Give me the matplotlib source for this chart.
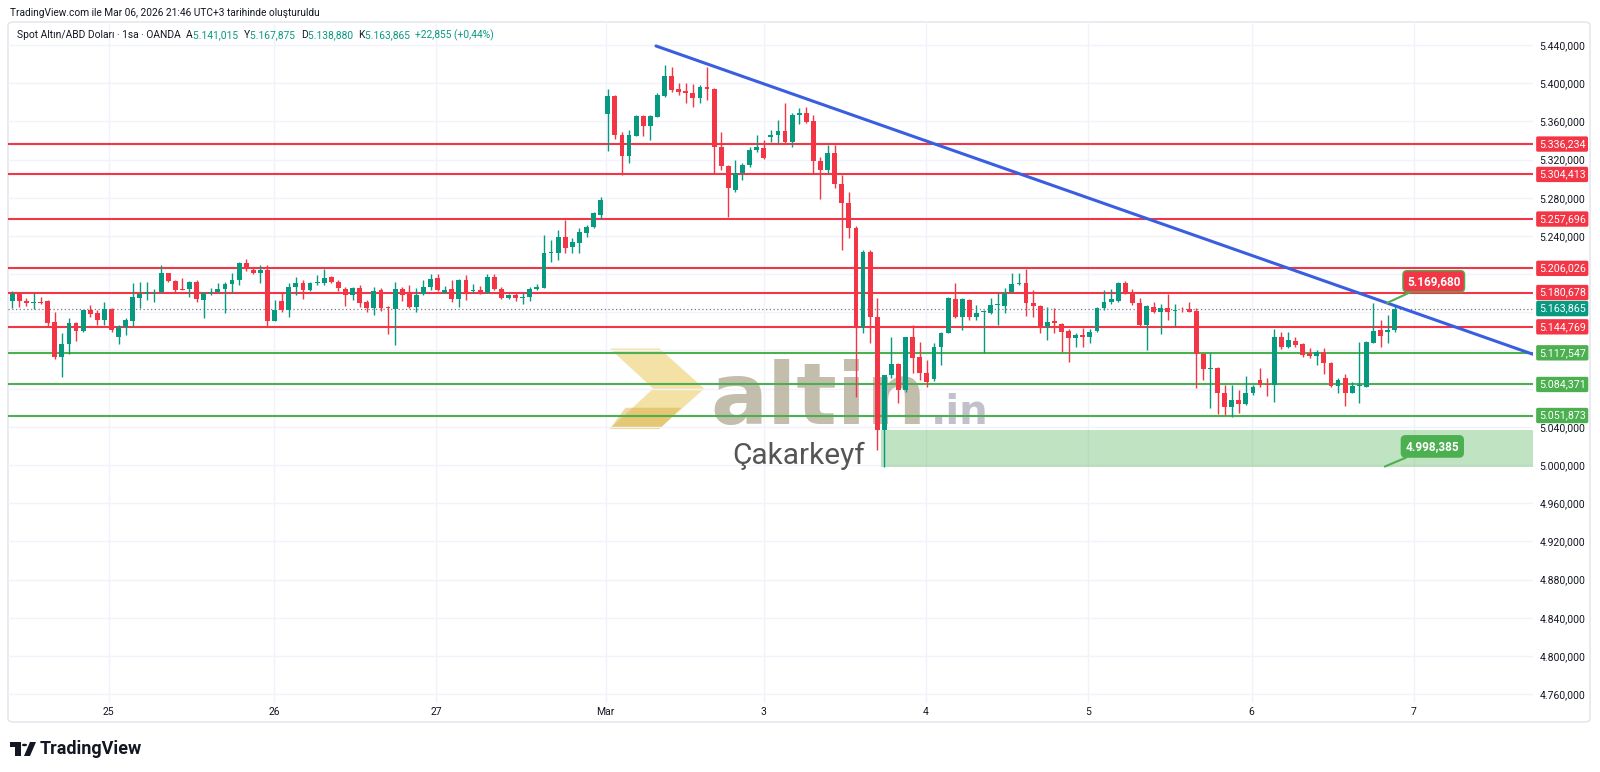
import numpy as np
import matplotlib
matplotlib.use('Agg')
import matplotlib.pyplot as plt
from matplotlib.patches import Rectangle, Polygon, Circle, FancyBboxPatch

plt.rcParams['font.family'] = ['Roboto', 'DejaVu Sans']

# ---- hourly OHLC (XAU/USD, 1h, OANDA) ----
opens = [
    5172.1, 5179.5, 5172.1, 5170.0, 5171.0, 5171.7, 5149.8, 5113.5, 5126.4, 5148.4,
    5140.7, 5162.3, 5158.9, 5151.9, 5163.0, 5134.4, 5144.9, 5151.2, 5175.3, 5178.8,
    5179.8, 5181.5, 5200.8, 5193.1, 5184.0, 5184.0, 5192.0, 5172.8, 5180.0, 5181.5,
    5184.0, 5189.2, 5193.8, 5211.2, 5204.2, 5201.5, 5204.2, 5151.2, 5172.2, 5162.4,
    5186.9, 5190.3, 5183.4, 5190.3, 5190.3, 5196.6, 5192.1, 5184.1, 5178.1, 5185.1,
    5170.4, 5164.2, 5183.4, 5166.0, 5163.1, 5184.1, 5179.9, 5165.9, 5178.8, 5186.2,
    5196.3, 5180.6, 5184.1, 5173.6, 5193.8, 5182.3, 5183.4, 5180.6, 5197.3, 5184.1,
    5174.6, 5178.1, 5175.3, 5176.3, 5184.8, 5185.8, 5222.5, 5222.5, 5238.5, 5228.0,
    5232.9, 5243.4, 5249.7, 5261.9, 5367.7, 5386.5, 5345.7, 5323.7, 5344.7, 5365.6,
    5355.2, 5364.9, 5386.6, 5407.5, 5393.6, 5392.2, 5389.4, 5384.1, 5396.4, 5393.6,
    5332.8, 5313.3, 5288.1, 5305.6, 5314.3, 5330.0, 5331.8, 5343.3, 5345.7, 5350.3,
    5338.7, 5367.0, 5368.4, 5360.7, 5318.8, 5309.1, 5326.5, 5294.4, 5274.1, 5248.0,
    5143.2, 5223.5, 5155.4, 5036.7, 5094.3, 5105.8, 5078.6, 5134.4, 5112.8, 5096.0,
    5090.0, 5124.0, 5137.9, 5173.5, 5154.7, 5172.8, 5155.4, 5160.6, 5158.9, 5167.6,
    5166.6, 5181.6, 5189.6, 5191.0, 5170.1, 5166.6, 5144.2, 5151.2, 5147.7, 5140.7,
    5132.7, 5136.2, 5133.7, 5140.5, 5164.1, 5171.1, 5172.2, 5191.0, 5179.1, 5170.1,
    5146.7, 5165.9, 5160.6, 5164.1, 5161.0, 5162.7, 5163.1, 5161.7, 5116.3, 5100.2,
    5101.2, 5075.7, 5061.0, 5068.0, 5063.9, 5075.0, 5089.0, 5084.8, 5083.8, 5133.7,
    5124.0, 5130.2, 5126.7, 5116.9, 5114.2, 5118.7, 5107.2, 5082.7, 5090.8, 5075.7,
    5082.7, 5082.0, 5128.1, 5141.4, 5139.7, 5141.015]
highs = [
    5182.2, 5181.5, 5174.6, 5179.8, 5176.0, 5172.8, 5160.2, 5137.9, 5153.6, 5150.1,
    5162.3, 5167.6, 5162.3, 5171.0, 5164.1, 5146.6, 5153.6, 5191.0, 5192.0, 5192.0,
    5184.0, 5209.5, 5201.5, 5193.8, 5195.5, 5193.1, 5193.8, 5181.5, 5185.0, 5190.3,
    5192.0, 5200.8, 5213.0, 5215.4, 5206.0, 5209.5, 5209.5, 5172.8, 5179.9, 5190.3,
    5196.6, 5193.8, 5192.0, 5199.1, 5205.0, 5198.0, 5193.8, 5186.2, 5186.9, 5188.6,
    5172.9, 5186.9, 5185.1, 5166.6, 5192.0, 5186.2, 5188.6, 5185.1, 5193.8, 5199.8,
    5199.8, 5187.6, 5193.8, 5194.5, 5199.1, 5189.6, 5187.6, 5199.8, 5199.8, 5186.2,
    5179.2, 5180.6, 5179.9, 5186.2, 5189.6, 5241.0, 5235.7, 5246.2, 5256.7, 5237.5,
    5248.0, 5251.5, 5265.4, 5281.1, 5393.6, 5387.6, 5349.2, 5351.0, 5366.7, 5366.7,
    5366.7, 5389.4, 5419.0, 5417.3, 5400.5, 5399.9, 5399.2, 5398.1, 5416.6, 5394.6,
    5349.2, 5314.3, 5319.5, 5316.0, 5332.8, 5345.7, 5340.5, 5351.0, 5361.5, 5379.6,
    5368.4, 5373.7, 5375.4, 5366.7, 5322.3, 5335.3, 5335.3, 5303.8, 5286.4, 5250.0,
    5225.2, 5225.2, 5174.6, 5094.3, 5133.7, 5107.2, 5134.4, 5146.7, 5129.2, 5110.0,
    5127.5, 5139.0, 5176.3, 5190.3, 5174.6, 5173.5, 5167.6, 5162.4, 5174.6, 5179.8,
    5185.1, 5201.5, 5200.8, 5205.0, 5183.3, 5167.6, 5165.9, 5164.1, 5149.1, 5142.1,
    5137.9, 5143.2, 5142.1, 5165.9, 5183.3, 5184.0, 5192.0, 5193.1, 5184.0, 5174.6,
    5167.6, 5171.1, 5168.7, 5179.1, 5168.7, 5165.9, 5171.1, 5164.1, 5117.6, 5117.6,
    5102.3, 5083.8, 5083.8, 5078.6, 5093.2, 5083.8, 5101.2, 5090.8, 5142.1, 5139.7,
    5139.7, 5133.7, 5128.1, 5122.2, 5120.4, 5122.2, 5108.2, 5090.8, 5095.3, 5087.3,
    5129.2, 5130.2, 5169.7, 5151.9, 5157.1, 5167.875]
lows = [
    5164.1, 5165.8, 5166.5, 5163.0, 5169.0, 5144.9, 5110.7, 5092.5, 5116.3, 5130.2,
    5139.6, 5155.4, 5146.6, 5146.6, 5139.6, 5126.7, 5136.2, 5144.9, 5164.1, 5172.8,
    5171.0, 5180.5, 5192.0, 5179.8, 5183.3, 5176.3, 5171.0, 5153.6, 5178.0, 5179.8,
    5158.9, 5179.8, 5188.5, 5203.5, 5200.0, 5191.0, 5144.2, 5151.2, 5160.7, 5155.4,
    5178.1, 5173.6, 5182.7, 5188.6, 5188.6, 5191.0, 5182.7, 5166.6, 5172.9, 5165.9,
    5160.7, 5157.2, 5161.7, 5137.0, 5125.5, 5172.2, 5164.2, 5160.7, 5178.1, 5183.4,
    5182.3, 5179.9, 5171.1, 5165.9, 5172.9, 5179.9, 5179.2, 5179.9, 5183.4, 5173.6,
    5173.6, 5172.2, 5168.7, 5172.2, 5183.4, 5185.1, 5213.0, 5214.8, 5221.8, 5221.8,
    5221.8, 5239.2, 5247.9, 5257.4, 5329.3, 5341.2, 5303.8, 5316.7, 5344.7, 5344.7,
    5340.5, 5364.2, 5385.2, 5391.1, 5387.6, 5378.9, 5375.4, 5378.9, 5382.4, 5305.6,
    5309.1, 5260.2, 5286.4, 5298.6, 5312.6, 5328.3, 5320.3, 5338.7, 5337.0, 5337.0,
    5333.5, 5357.3, 5358.0, 5305.6, 5278.4, 5305.6, 5289.9, 5225.3, 5237.5, 5071.6,
    5138.0, 5127.5, 5015.7, 4998.4, 5090.8, 5064.6, 5076.8, 5096.0, 5089.0, 5082.0,
    5088.0, 5104.8, 5137.9, 5153.6, 5141.4, 5151.9, 5151.9, 5117.0, 5158.2, 5146.6,
    5158.9, 5180.5, 5188.6, 5156.1, 5155.4, 5137.9, 5131.0, 5137.9, 5118.7, 5108.2,
    5123.3, 5124.0, 5128.2, 5139.7, 5162.4, 5168.7, 5171.1, 5179.1, 5167.6, 5144.9,
    5120.5, 5159.6, 5137.2, 5151.9, 5145.6, 5160.6, 5160.6, 5080.3, 5089.0, 5059.3,
    5053.4, 5052.3, 5050.6, 5054.1, 5062.8, 5073.3, 5082.0, 5072.3, 5066.3, 5121.1,
    5122.2, 5123.9, 5113.5, 5111.7, 5104.7, 5095.3, 5082.0, 5075.0, 5061.8, 5075.0,
    5064.6, 5082.0, 5127.4, 5123.9, 5128.1, 5138.880]
closes = [
    5178.8, 5172.1, 5170.0, 5171.0, 5170.0, 5149.1, 5113.5, 5126.4, 5148.4, 5140.7,
    5162.3, 5158.2, 5151.9, 5163.0, 5141.4, 5144.9, 5151.9, 5175.6, 5178.8, 5180.9,
    5181.5, 5200.8, 5193.1, 5183.3, 5183.3, 5192.0, 5173.5, 5180.5, 5181.5, 5184.0,
    5189.2, 5193.8, 5211.2, 5206.0, 5201.5, 5204.2, 5151.2, 5162.3, 5162.4, 5186.9,
    5190.3, 5183.4, 5191.0, 5191.7, 5196.3, 5192.1, 5185.1, 5178.1, 5185.1, 5169.4,
    5164.2, 5182.3, 5164.2, 5164.2, 5184.1, 5178.1, 5165.9, 5178.1, 5186.9, 5195.2,
    5183.4, 5183.4, 5173.6, 5193.8, 5181.6, 5183.4, 5180.6, 5197.3, 5184.1, 5174.6,
    5178.1, 5174.6, 5176.3, 5184.1, 5186.9, 5222.5, 5223.6, 5239.2, 5227.0, 5234.0,
    5244.5, 5249.7, 5263.7, 5277.6, 5386.5, 5345.7, 5323.7, 5345.7, 5365.6, 5355.2,
    5365.6, 5387.6, 5407.5, 5392.9, 5391.1, 5389.4, 5384.1, 5396.4, 5393.6, 5333.5,
    5313.3, 5289.9, 5305.6, 5314.3, 5330.0, 5332.8, 5321.3, 5345.7, 5350.3, 5338.7,
    5366.7, 5368.4, 5359.7, 5318.8, 5309.1, 5326.5, 5294.4, 5274.1, 5248.0, 5143.2,
    5223.5, 5155.4, 5036.7, 5094.3, 5105.8, 5078.6, 5134.4, 5111.7, 5096.0, 5087.3,
    5124.0, 5137.9, 5174.6, 5154.7, 5173.5, 5154.7, 5158.9, 5161.0, 5167.6, 5167.9,
    5180.5, 5189.6, 5190.3, 5170.1, 5166.6, 5145.6, 5150.1, 5148.4, 5139.7, 5132.7,
    5136.2, 5133.7, 5139.7, 5164.1, 5171.1, 5173.5, 5191.0, 5179.8, 5170.1, 5146.7,
    5166.6, 5160.6, 5164.1, 5160.6, 5162.7, 5162.0, 5160.6, 5116.3, 5100.2, 5101.2,
    5075.7, 5061.0, 5068.0, 5063.9, 5075.0, 5081.3, 5083.8, 5083.8, 5133.7, 5124.0,
    5130.9, 5125.7, 5115.2, 5114.2, 5118.7, 5106.5, 5082.7, 5089.0, 5075.7, 5082.7,
    5083.8, 5129.2, 5140.7, 5135.1, 5141.4, 5163.865]

# date axis (bar index where each day label sits)
day_pos = [13.6, 36.9, 59.8, 83.7, 106.0, 128.9, 151.8, 174.8, 197.7]
day_labels = ['25', '26', '27', 'Mar', '3', '4', '5', '6', '7']

# drawn levels
resistance = [5336.234, 5304.413, 5257.696, 5206.026, 5180.678, 5144.769]
support = [5117.547, 5084.371, 5051.873]
last_price = 5163.865
trend_x = [90.8, 214.5]
trend_y = [5439.0, 5116.0]
zone_x = [122.6, 214.5]
zone_y = [4998.385, 5037.0]
note_high = (193.9, 5169.680)
note_low = (193.6, 4998.385)

UP, DOWN = '#089981', '#F23645'
RES_C, SUP_C = '#F23645', '#4CAF50'


def tr_num(v):
    # 5440.0 -> '5.440,000' (Turkish number format)
    return f'{v:,.3f}'.replace(',', ' ').replace('.', ',').replace(' ', '.')


W, H = 1600, 772
fig = plt.figure(figsize=(W / 100, H / 100), dpi=100)
fig.patch.set_facecolor('white')

def fx(x):
    return x / W

def fy(y):
    return 1 - y / H

# panel frame (behind the axes)
fig.patches.append(FancyBboxPatch((fx(8), fy(722)), fx(1582), (722 - 22) / H,
                                  boxstyle='round,pad=0,rounding_size=0.004',
                                  transform=fig.transFigure, fc='none',
                                  ec='#e0e3eb', lw=1, zorder=-1))

ax = fig.add_axes([fx(8), fy(703), (1533 - 8) / W, (703 - 22) / H])
ax.set_facecolor('none')
ax.set_xlim(-0.6, 214.5)
ax.set_ylim(4750.7, 5464.1)
for s in ax.spines.values():
    s.set_visible(False)

# price scale: labels hidden where a level tag sits on top of them
yt = np.arange(4760, 5441, 40)
tags_at = resistance + support + [last_price]
ax.set_yticks(yt)
ax.set_yticklabels(['' if min(abs(v - t) for t in tags_at) < 10 else tr_num(v) for v in yt])
ax.yaxis.tick_right()
ax.tick_params(axis='y', length=0, pad=4.5, labelsize=7.5, labelcolor='#131722')
ax.set_xticks(day_pos)
ax.set_xticklabels(day_labels)
ax.tick_params(axis='x', length=0, pad=3, labelsize=7.5, labelcolor='#131722')
ax.grid(True, color='#f0f3fa', lw=1, zorder=0)
ax.set_axisbelow(True)

# watermark (altin.in logo) behind the candles
ax.add_patch(Polygon([[84.3, 5122], [91.3, 5122], [97.6, 5080], [91.3, 5038], [84.3, 5038], [90.4, 5080]],
                     closed=True, fc='#ebcd6a', ec='none', alpha=0.6, zorder=0.5))
ax.add_patch(Polygon([[86.5, 5060], [94.4, 5060], [91.3, 5038], [84.3, 5038]],
                     closed=True, fc='#d7a93a', ec='none', alpha=0.45, zorder=0.5))
ax.text(98.5, 5043, 'altin', fontsize=61, fontweight='bold', family='DejaVu Sans',
        color='#b5ad98', alpha=0.8, ha='left', va='baseline', zorder=0.6)
ax.text(129.6, 5043, '.in', fontsize=29, fontweight='bold', family='DejaVu Sans',
        color='#b3b1bf', alpha=0.8, ha='left', va='baseline', zorder=0.6)
ax.text(101.5, 5010, 'Çakarkeyf', fontsize=21.5, color='#555555', ha='left', va='center', zorder=0.6)

# support zone
ax.add_patch(Rectangle((zone_x[0], zone_y[0]), zone_x[1] - zone_x[0], zone_y[1] - zone_y[0],
                       fc='#4CAF50', ec='none', alpha=0.35, zorder=1))

# horizontal levels
for lv in resistance:
    ax.axhline(lv, color=RES_C, lw=1.5, zorder=2)
for lv in support:
    ax.axhline(lv, color=SUP_C, lw=1.5, zorder=2)
ax.axhline(last_price, color='#787b86', lw=0.9, ls=(0, (1, 2)), zorder=2)

# candles
o = np.array(opens); h = np.array(highs); l = np.array(lows); c = np.array(closes)
idx = np.arange(len(o))
col = np.where(c >= o, UP, DOWN)
ax.vlines(idx, l, h, colors=col, lw=1, zorder=3)
body = np.maximum(np.abs(c - o), 0.8)
ax.bar(idx, body, bottom=np.minimum(o, c), width=0.68, color=col, lw=0, zorder=4)

# trend line
ax.plot(trend_x, trend_y, color='#3a5ee0', lw=2.2, solid_capstyle='round', zorder=5)

# price notes with arrows
ax.annotate(tr_num(note_high[1]), xy=note_high, xytext=(200.5, 5192.5), ha='center', va='center',
            fontsize=8.5, fontweight='bold', color='white', zorder=6,
            bbox=dict(boxstyle='round,pad=0.35', fc='#F23645', ec='#4CAF50', lw=1),
            arrowprops=dict(arrowstyle='-', color='#4CAF50', lw=1.5, shrinkA=0, shrinkB=0))
ax.annotate(tr_num(note_low[1]), xy=note_low, xytext=(200.3, 5019.5), ha='center', va='center',
            fontsize=8.5, fontweight='bold', color='white', zorder=6,
            bbox=dict(boxstyle='round,pad=0.35', fc='#4CAF50', ec='#4CAF50', lw=1),
            arrowprops=dict(arrowstyle='-', color='#4CAF50', lw=1.5, shrinkA=0, shrinkB=0))

# price axis tags
def tag(price, color):
    ax.annotate(tr_num(price), xy=(1, price), xycoords=('axes fraction', 'data'),
                xytext=(4.2, 0), textcoords='offset points', ha='left', va='center',
                fontsize=7.7, color='white', zorder=7, annotation_clip=False,
                bbox=dict(boxstyle='round,pad=0.25,rounding_size=0.15', fc=color, ec='none'))

for lv in resistance:
    tag(lv, RES_C)
for lv in support:
    tag(lv, SUP_C)
tag(last_price, UP)

# header texts
fig.text(fx(10), fy(13), 'TradingView.com ile Mar 06, 2026 21:46 UTC+3 tarihinde oluşturuldu',
         fontsize=7.3, color='#131722', va='center', ha='left')

fig.canvas.draw()
r = fig.canvas.get_renderer()
legend_parts = [('Spot Altın/ABD Doları · 1sa · OANDA  ', '#131722'),
                ('A', '#131722'), ('5.141,015  ', UP),
                ('Y', '#131722'), ('5.167,875  ', UP),
                ('D', '#131722'), ('5.138,880  ', UP),
                ('K', '#131722'), ('5.163,865  ', UP),
                ('+22,855 (+0,44%)', UP)]
x = 17
for s, cc in legend_parts:
    t = fig.text(fx(x), fy(35), s, fontsize=7.4, color=cc, va='center', ha='left')
    x += t.get_window_extent(r).width + 0.4

# TradingView logo
k = '#131722'
fig.patches.append(Rectangle((fx(10), fy(747)), fx(11), 5 / H, transform=fig.transFigure, fc=k, ec='none'))
fig.patches.append(Rectangle((fx(15), fy(756)), fx(6), 14 / H, transform=fig.transFigure, fc=k, ec='none'))
fig.patches.append(Polygon([[fx(24), fy(756)], [fx(30), fy(756)], [fx(36), fy(742)], [fx(30), fy(742)]],
                           closed=True, transform=fig.transFigure, fc=k, ec='none'))
fig.patches.append(Circle((fx(24.5), fy(745)), 2.6 / W, transform=fig.transFigure, fc=k, ec='none'))
fig.text(fx(40), fy(749), 'TradingView', fontsize=13, fontweight='bold', color=k, va='center', ha='left')

fig.savefig('out.png', dpi=100, facecolor='white')
